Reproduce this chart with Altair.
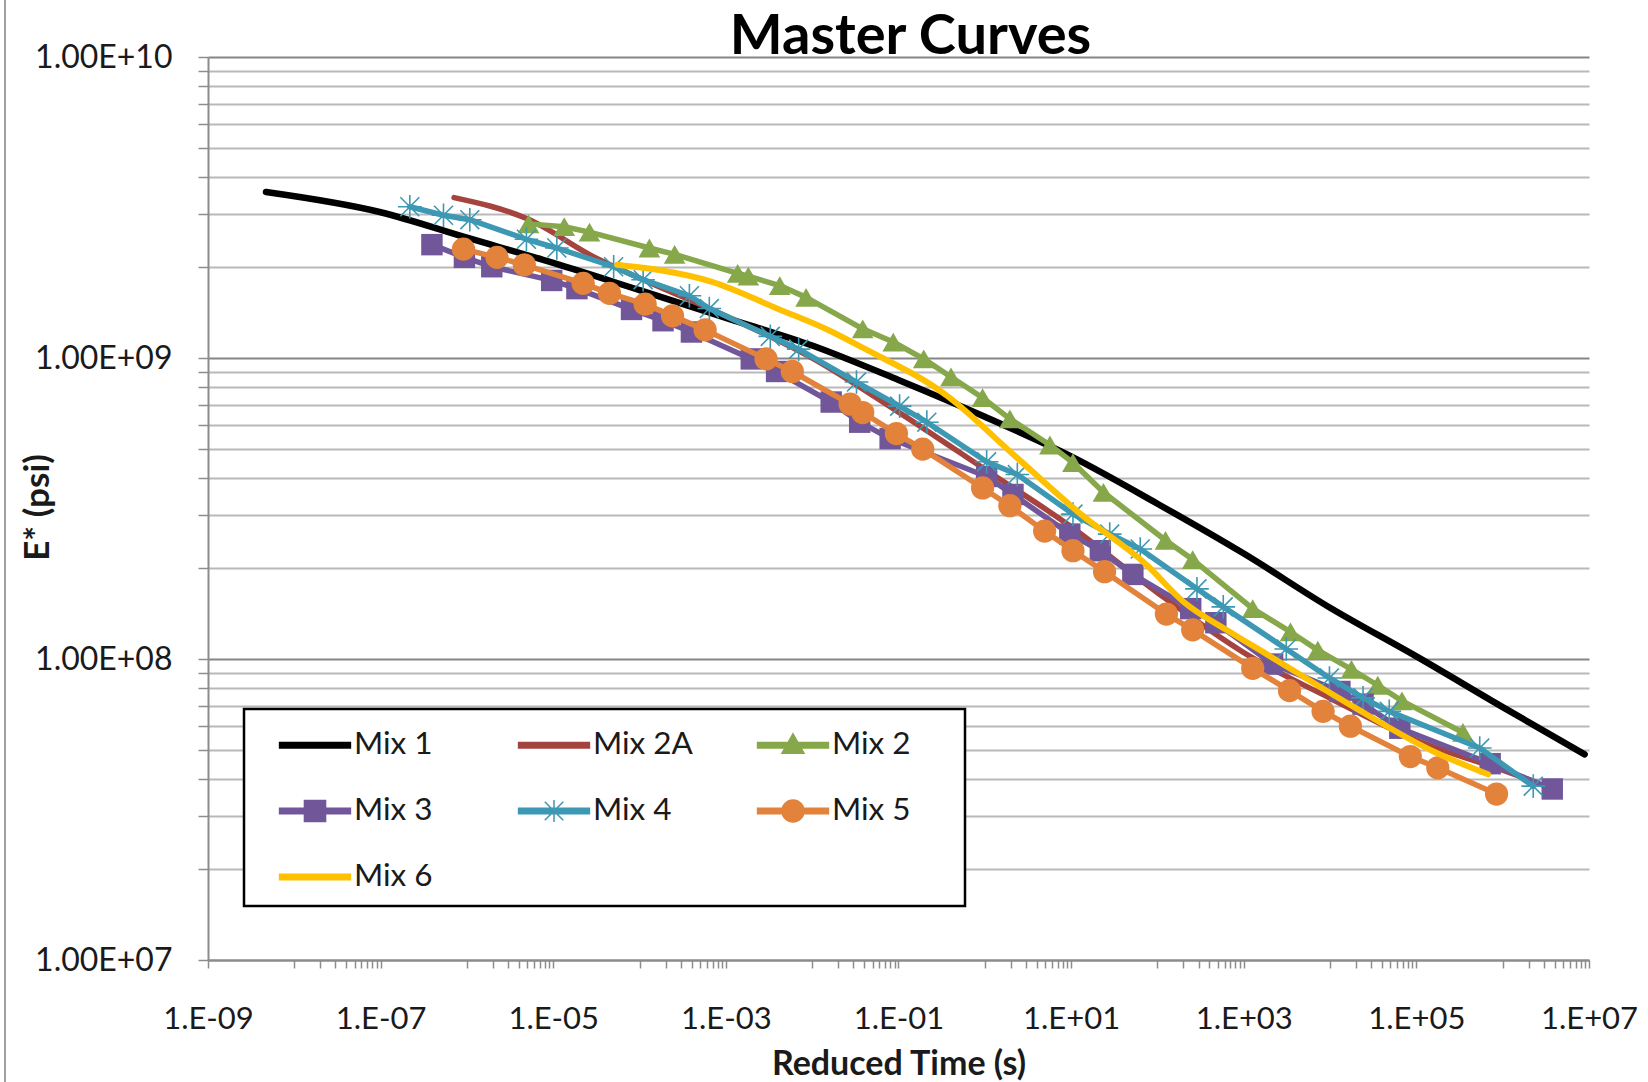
import altair as alt
import pandas as pd

# ---------------- data ----------------
series_names = ["Mix 1", "Mix 2A", "Mix 2", "Mix 3", "Mix 4", "Mix 5", "Mix 6"]

mix1_time = [4.7e-9, 1e-7, 1e-6, 1e-5, 1e-4, 1e-3, 1e-2, 1e-1, 1, 10, 100, 1e3, 1e4, 1e5, 1e6, 8.9e6]
mix1_modulus = [3.56e9, 3.05e9, 2.51e9, 2.07e9, 1.68e9, 1.36e9, 1.10e9, 8.45e8, 6.38e8, 4.71e8,
                3.28e8, 2.24e8, 1.48e8, 1.02e8, 6.92e7, 4.82e7]

mix2a_time = [7.1e-7, 5.0e-6, 3.2e-5, 1.26e-4, 1e-3, 1e-2, 0.1, 1, 10, 100, 1e3, 1e4, 1e5, 1e6, 2.5e6]
mix2a_modulus = [3.41e9, 2.90e9, 2.14e9, 1.79e9, 1.38e9, 1.00e9, 6.61e8, 4.27e8, 2.75e8, 1.66e8,
                 1.05e8, 7.41e7, 5.37e7, 4.27e7, 3.89e7]

mix2_time = [5.18e-6, 1.34e-5, 2.63e-5, 1.30e-4, 2.55e-4, 1.37e-3, 1.82e-3, 4.21e-3, 8.49e-3,
             3.85e-2, 8.69e-2, 0.196, 0.406, 0.942, 1.95, 5.68, 10.5, 23.7, 124, 256, 1270,
             3480, 7210, 1.77e4, 3.57e4, 6.81e4, 3.46e5]
mix2_modulus = [2.79e9, 2.73e9, 2.62e9, 2.32e9, 2.21e9, 1.91e9, 1.87e9, 1.74e9, 1.59e9,
                1.25e9, 1.13e9, 9.93e8, 8.65e8, 7.38e8, 6.28e8, 5.14e8, 4.49e8, 3.58e8, 2.48e8,
                2.14e8, 1.47e8, 1.23e8, 1.07e8, 9.23e7, 8.18e7, 7.26e7, 5.70e7]

mix3_time = [3.93e-7, 9.35e-7, 1.94e-6, 9.59e-6, 1.88e-5, 8.07e-5, 1.87e-4, 3.99e-4, 1.97e-3,
             3.87e-3, 1.66e-2, 3.55e-2, 8.0e-2, 1.05, 2.12, 9.66, 21.8, 51.9, 243, 475, 2160,
             1.30e4, 2.41e4, 6.43e4, 7.16e5, 3.75e6]
mix3_modulus = [2.38e9, 2.16e9, 2.01e9, 1.81e9, 1.70e9, 1.45e9, 1.33e9, 1.22e9, 9.93e8,
                9.02e8, 7.14e8, 6.12e8, 5.40e8, 4.04e8, 3.52e8, 2.60e8, 2.29e8, 1.91e8, 1.47e8,
                1.32e8, 9.62e7, 7.80e7, 7.08e7, 5.89e7, 4.49e7, 3.70e7]

mix4_time = [2.18e-7, 5.35e-7, 1.08e-6, 4.89e-6, 1.10e-5, 5.01e-5, 1.10e-4, 3.78e-4, 6.43e-4,
             3.27e-3, 6.97e-3, 3.26e-2, 0.103, 0.213, 1.05, 2.38, 10.5, 28.0, 63.2, 287, 579,
             3110, 9840, 2.41e4, 4.85e4, 5.42e5, 2.26e6]
mix4_modulus = [3.18e9, 2.98e9, 2.88e9, 2.48e9, 2.32e9, 2.01e9, 1.82e9, 1.61e9, 1.46e9,
                1.18e9, 1.07e9, 8.32e8, 6.92e8, 6.12e8, 4.52e8, 4.10e8, 3.03e8, 2.60e8, 2.32e8,
                1.71e8, 1.49e8, 1.08e8, 8.65e7, 7.43e7, 6.70e7, 5.06e7, 3.78e7]

mix5_time = [9.10e-7, 2.23e-6, 4.62e-6, 2.22e-5, 4.48e-5, 1.16e-4, 2.41e-4, 5.75e-4, 2.92e-3,
             5.89e-3, 2.75e-2, 3.85e-2, 9.46e-2, 0.191, 0.942, 1.95, 4.93, 10.5, 24.4, 127, 256,
             1270, 3390, 8300, 1.72e4, 8.51e4, 1.77e5, 8.49e5]
mix5_modulus = [2.30e9, 2.16e9, 2.04e9, 1.77e9, 1.64e9, 1.51e9, 1.38e9, 1.24e9, 9.93e8,
                9.02e8, 7.03e8, 6.59e8, 5.61e8, 4.98e8, 3.70e8, 3.23e8, 2.66e8, 2.29e8, 1.95e8,
                1.41e8, 1.25e8, 9.31e7, 7.85e7, 6.70e7, 5.98e7, 4.74e7, 4.35e7, 3.56e7]

mix6_time = [5.50e-5, 6.92e-4, 4.17e-3, 1.62e-2, 3.89e-2, 0.363, 2.14, 12.9, 74.1, 200, 692,
             1820, 1.66e4, 1.58e5, 6.76e5]
mix6_modulus = [2.04e9, 1.79e9, 1.45e9, 1.23e9, 1.08e9, 7.50e8, 4.78e8, 3.03e8, 2.06e8,
                1.55e8, 1.23e8, 1.04e8, 7.08e7, 4.93e7, 4.14e7]

x_tick_labels = ["1.E-09", "1.E-07", "1.E-05", "1.E-03", "1.E-01", "1.E+01", "1.E+03", "1.E+05", "1.E+07"]
y_tick_labels = ["1.00E+07", "1.00E+08", "1.00E+09", "1.00E+10"]

series_data = [
    ("Mix 1", mix1_time, mix1_modulus),
    ("Mix 2A", mix2a_time, mix2a_modulus),
    ("Mix 2", mix2_time, mix2_modulus),
    ("Mix 3", mix3_time, mix3_modulus),
    ("Mix 4", mix4_time, mix4_modulus),
    ("Mix 5", mix5_time, mix5_modulus),
    ("Mix 6", mix6_time, mix6_modulus),
]
rows = []
for name, ts, es in series_data:
    for t, e in zip(ts, es):
        rows.append({"series": name, "time": t, "modulus": e})
df = pd.DataFrame(rows)

# ---------------- styles ----------------
colors = {
    "Mix 1": "#000000", "Mix 2A": "#A5433F", "Mix 2": "#86A84A", "Mix 3": "#71579A",
    "Mix 4": "#3D98B3", "Mix 5": "#E2823B", "Mix 6": "#FFC000",
}
line_width = {"Mix 1": 6.5, "Mix 2A": 5.5, "Mix 2": 5.5, "Mix 3": 5.5, "Mix 4": 5.5, "Mix 5": 5.5, "Mix 6": 6}
smooth = {"Mix 1", "Mix 2A", "Mix 6"}
ASTERISK = "M0,-1V1M-0.8,-0.8L0.8,0.8M-0.8,0.8L0.8,-0.8M-1,0H1"
markers = {
    "Mix 2": dict(shape="triangle-up", size=470, filled=True, strokeWidth=1),
    "Mix 3": dict(shape="square", size=460, filled=True, strokeWidth=1),
    "Mix 4": dict(shape=ASTERISK, size=560, filled=False, strokeWidth=1.6),
    "Mix 5": dict(shape="circle", size=540, filled=True, strokeWidth=1),
}

# legend symbol = line + marker; the trailing move-to only widens the entry's
# layout box (the Excel legend leaves room on the right of each entry)
LINE = "M-1.61,-0.13H1.61V0.13H-1.61Z"
PAD = "M7.09,0"
legend_paths = [
    LINE + PAD,
    LINE + PAD,
    LINE + "M0,-0.52L0.5,0.36H-0.5Z" + PAD,
    LINE + "M-0.48,-0.48H0.48V0.48H-0.48Z" + PAD,
    LINE + "M0,-0.5V0.5M-0.42,-0.42L0.42,0.42M-0.42,0.42L0.42,-0.42" + PAD,
    LINE + "M0.5,0A0.5,0.5,0,1,1,-0.5,0A0.5,0.5,0,1,1,0.5,0Z" + PAD,
    LINE + PAD,
]

FONT = "Lato"
TXT = "#1a1a1a"
AXIS_GRAY = "#8c8c8c"

x_ticks = [10.0 ** e for e in range(-9, 8, 2)] + [k * 10.0 ** e for e in range(-8, 7, 2) for k in range(1, 10)]
y_ticks = [k * 10.0 ** e for e in range(7, 10) for k in range(1, 10)] + [1e10]

LX = "(log(datum.value)/LN10)"
x_label_expr = (
    f"(abs({LX}-round({LX}))<0.001 && abs(round({LX}))%2==1) ? "
    f"'1.E' + (round({LX})<0 ? '-' : '+') + format(abs(round({LX})), '02d') : ''"
)
y_label_expr = (
    f"abs({LX}-round({LX}))<0.001 ? '1.00E+' + format(round({LX}), '02d') : ''"
)

x_scale = alt.Scale(type="log", domain=[1e-9, 1e7], nice=False)
y_scale = alt.Scale(type="log", domain=[1e7, 1e10], nice=False)

x_axis = alt.Axis(
    values=x_ticks, labelExpr=x_label_expr, title="Reduced Time (s)", grid=False,
    tickSize=8, tickColor=AXIS_GRAY, tickWidth=1.5, domainColor=AXIS_GRAY, domainWidth=2,
    labelFont=FONT, labelFontSize=31, labelColor=TXT, labelPadding=36,
    labelOverlap=False, labelFlush=False,
    titleFont=FONT, titleFontSize=34, titleFontWeight="bold", titleColor=TXT,
    titleY=104, titleBaseline="middle",
)
y_axis = alt.Axis(
    values=y_ticks, labelExpr=y_label_expr, title="E* (psi)", grid=True,
    gridColor={"condition": {"test": f"abs({LX}-round({LX}))<0.001", "value": "#858585"},
               "value": "#b9b9b9"},
    gridWidth=2,
    tickSize=10, tickColor=AXIS_GRAY, tickWidth=1.5, domainColor=AXIS_GRAY, domainWidth=2,
    labelFont=FONT, labelFontSize=32, labelColor=TXT, labelPadding=26, labelOverlap=False,
    titleFont=FONT, titleFontSize=35, titleFontWeight="bold", titleColor=TXT,
    titleX=-171, titleY=450, titleBaseline="middle", titleAlign="center", titleAngle=270,
)

X = alt.X("time:Q", scale=x_scale, axis=x_axis)
Y = alt.Y("modulus:Q", scale=y_scale, axis=y_axis)

base = alt.Chart(df)
layers = []
for name in series_names:
    sel = base.transform_filter(alt.datum.series == name)
    layers.append(
        sel.mark_line(
            color=colors[name], strokeWidth=line_width[name],
            interpolate="monotone" if name in smooth else "linear",
            strokeCap="round", strokeJoin="round",
        ).encode(x=X, y=Y)
    )
    if name in markers:
        m = markers[name]
        layers.append(
            sel.mark_point(
                shape=m["shape"], size=m["size"], filled=m["filled"],
                color=colors[name], strokeWidth=m["strokeWidth"], opacity=1,
            ).encode(x=X, y=Y)
        )

legend = alt.Legend(
    title=None, orient="none", legendX=36, legendY=652, columns=3, direction="horizontal",
    gridAlign="all", columnPadding=22, rowPadding=27, padding=13,
    strokeColor="#000000", fillColor="#ffffff",
    symbolSize=1936, symbolStrokeWidth=1.5, symbolOffset=35, labelOffset=16,
    labelFont=FONT, labelFontSize=31.5, labelColor=TXT, labelLimit=300,
)
name_list = series_names
color_list = [colors[n] for n in series_names]
legend_layer = base.transform_filter("false").mark_point(filled=True, opacity=1, strokeWidth=1.5).encode(
    x=X, y=Y,
    color=alt.Color("series:N", scale=alt.Scale(domain=name_list, range=color_list), legend=legend, sort=name_list),
    stroke=alt.Stroke("series:N", scale=alt.Scale(domain=name_list, range=color_list), legend=legend, sort=name_list),
    shape=alt.Shape("series:N", scale=alt.Scale(domain=name_list, range=legend_paths), legend=legend, sort=name_list),
)
layers.append(legend_layer)

frame = alt.Chart(pd.DataFrame({"f": [0]})).mark_rule(color="#a0a0a0", strokeWidth=2).encode(
    x=alt.value(-203), y=alt.value(-57), y2=alt.value(1030)
)
layers.append(frame)

chart = alt.layer(*layers).properties(
    width=1381, height=903,
    autosize=alt.AutoSizeParams(type="none"),
    padding={"left": 208, "top": 57, "right": 59, "bottom": 122},
    title=alt.TitleParams(
        "Master Curves", font=FONT, fontSize=56, fontWeight="bold", color="#000000",
        anchor="middle", frame="group", dx=12, dy=67, offset=0,
    ),
    background="#ffffff",
).configure_view(strokeWidth=0).configure_legend(strokeWidth=2.5)

chart.save("out.html", embed_options={"renderer": "svg", "actions": False})
